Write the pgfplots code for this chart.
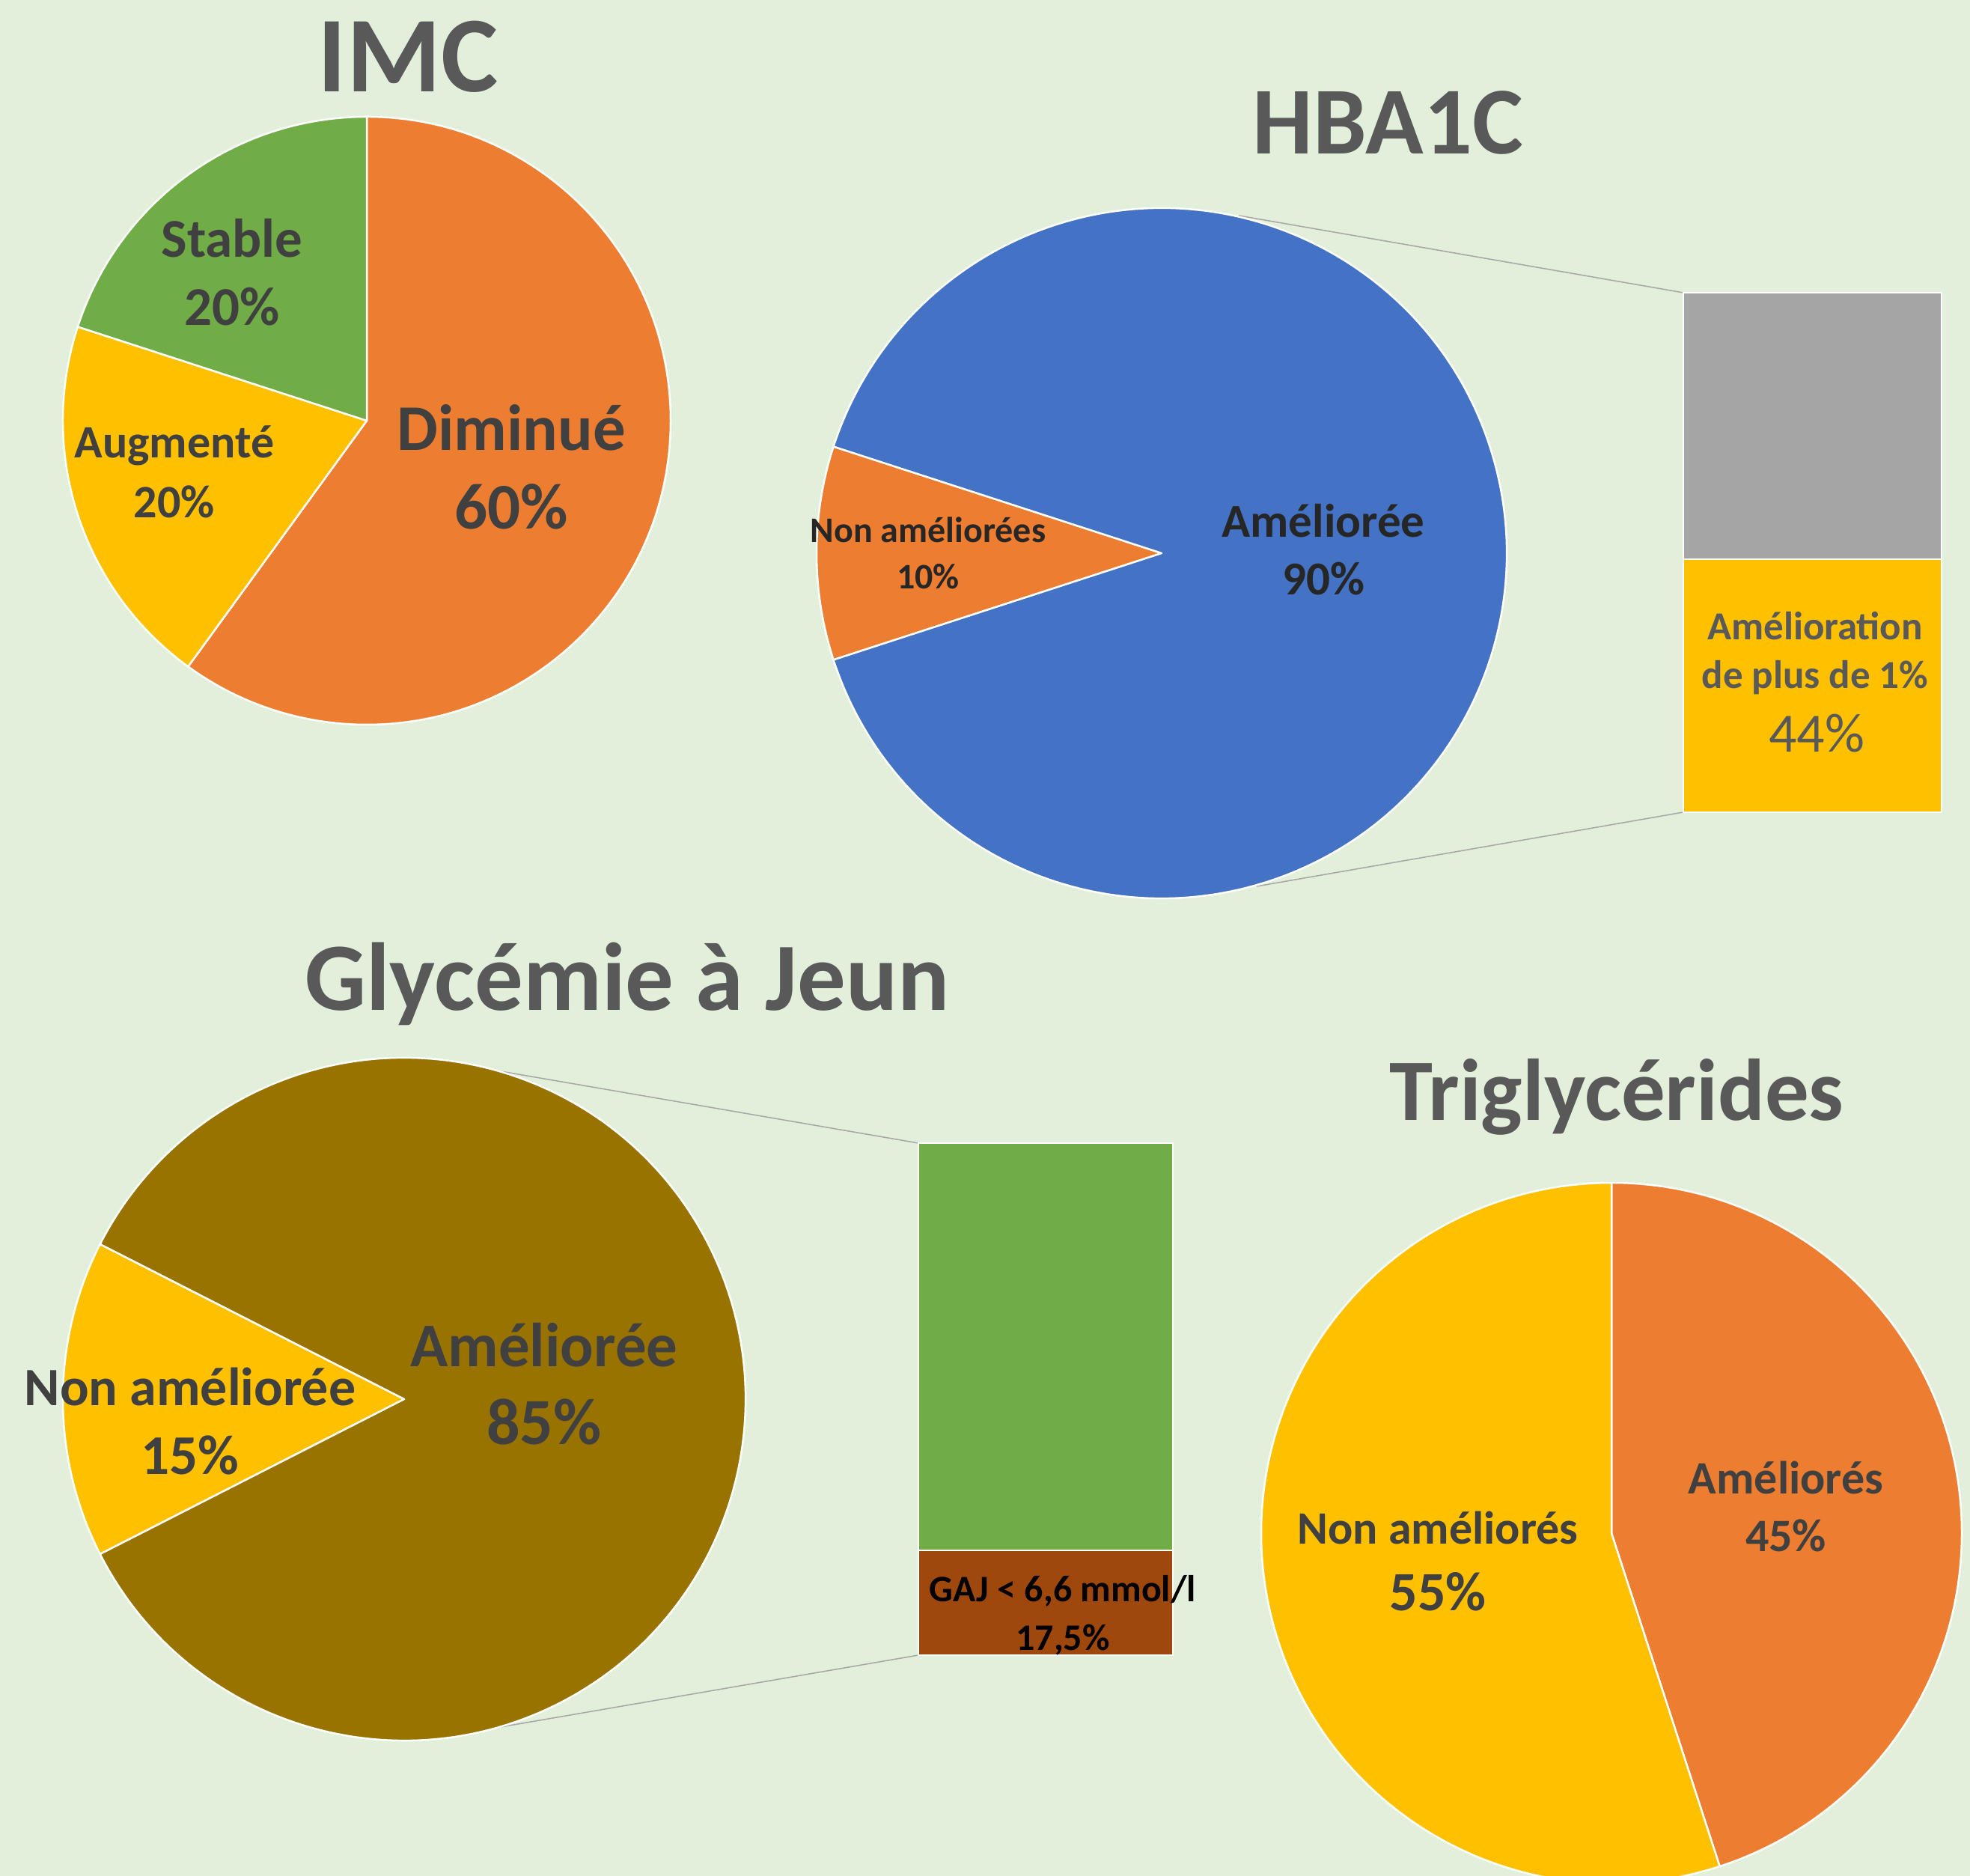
\documentclass[border=0pt]{standalone}
\usepackage{pgfplots}
\pgfplotsset{compat=1.18}
\usepackage{fontspec}
\setmainfont{Carlito}
\definecolor{bg}{HTML}{E2EFDA}
\definecolor{cOrange}{HTML}{ED7D31}
\definecolor{cYellow}{HTML}{FFC000}
\definecolor{cGreen}{HTML}{70AD47}
\definecolor{cBlue}{HTML}{4472C4}
\definecolor{cGray}{HTML}{A5A5A5}
\definecolor{cOlive}{HTML}{997300}
\definecolor{cBrown}{HTML}{9E480E}
\definecolor{tTitle}{HTML}{595959}
\definecolor{tLab}{HTML}{404040}
\definecolor{tDark}{HTML}{262626}
\definecolor{cLine}{HTML}{A6A6A6}
\newcommand\fs[1]{\fontsize{#1pt}{#1pt}\selectfont}
% slice: center x, center y, radius, start angle, percentage (clockwise if negative), colour
\newcommand\slice[6]{%
  \fill[#6, draw=white, line width=2.5pt, line join=round]
    (axis cs:#1,#2) -- ++(#4:#3pt) arc[start angle=#4, delta angle={3.6*(#5)}, radius=#3pt] -- cycle;}
\begin{document}
\begin{tikzpicture}
\begin{axis}[x=1pt, y=1pt, xmin=0, xmax=2632, ymin=0, ymax=2506,
  hide axis, scale only axis]
\fill[bg] (axis cs:0,0) rectangle (axis cs:2632,2506);

% ---------- IMC (Diminué 60, Augmenté 20, Stable 20) ----------
\slice{490}{1944}{406}{90}{-60}{cOrange}
\slice{490}{1944}{406}{-126}{-20}{cYellow}
\slice{490}{1944}{406}{162}{-20}{cGreen}
\node[anchor=base, text=tTitle, font=\fs{144}\bfseries] at (axis cs:545,2383) {IMC};
\node[anchor=base, text=tLab, font=\fs{73}\bfseries] at (axis cs:310,2162) {Stable};
\node[anchor=base, text=tLab, font=\fs{73}\bfseries] at (axis cs:310,2071) {20\%};
\node[anchor=base, text=tLab, font=\fs{62}\bfseries] at (axis cs:233,1894) {Augmenté};
\node[anchor=base, text=tLab, font=\fs{62}\bfseries] at (axis cs:233,1814) {20\%};
\node[anchor=base, text=tLab, font=\fs{87}\bfseries] at (axis cs:683,1904) {Diminué};
\node[anchor=base, text=tLab, font=\fs{87}\bfseries] at (axis cs:683,1799) {60\%};

% ---------- HBA1C (Non améliorées 10, Améliorée 90) ----------
\addplot[cLine, line width=1.5pt] coordinates {(1655,2218) (2249,2115)};
\addplot[cLine, line width=1.5pt] coordinates {(1679,1322) (2249,1421)};
\slice{1552}{1767}{461}{162}{10}{cOrange}
\slice{1552}{1767}{461}{198}{90}{cBlue}
\addplot[fill=cGray, draw=white, line width=2.5pt] coordinates {(2249,1759) (2594,1759) (2594,2115) (2249,2115)} -- cycle;
\addplot[fill=cYellow, draw=white, line width=2.5pt] coordinates {(2249,1421) (2594,1421) (2594,1759) (2249,1759)} -- cycle;
\node[anchor=base, text=tTitle, font=\fs{128}\bfseries] at (axis cs:1854,2300) {HBA1C};
\node[anchor=base, text=tDark, font=\fs{48}\bfseries] at (axis cs:1240,1781) {Non améliorées};
\node[anchor=base, text=tDark, font=\fs{48}\bfseries] at (axis cs:1240,1719) {10\%};
\node[anchor=base, text=tDark, font=\fs{63}\bfseries] at (axis cs:1768,1788) {Améliorée};
\node[anchor=base, text=tDark, font=\fs{63}\bfseries] at (axis cs:1768,1711) {90\%};
\node[anchor=base, text=tTitle, font=\fs{53}\bfseries] at (axis cs:2425,1651) {Amélioration};
\node[anchor=base, text=tTitle, font=\fs{53}\bfseries] at (axis cs:2425,1586) {de plus de 1\%};
\node[anchor=base, text=tTitle, font=\fs{74}] at (axis cs:2427,1501) {44\%};

% ---------- Glycémie à Jeun (Non améliorée 15, Améliorée 85) ----------
\addplot[cLine, line width=1.5pt] coordinates {(663,1076) (1227,979)};
\addplot[cLine, line width=1.5pt] coordinates {(663,198) (1227,295)};
\slice{540}{637}{456}{153}{15}{cYellow}
\slice{540}{637}{456}{207}{85}{cOlive}
\addplot[fill=cGreen, draw=white, line width=2.5pt] coordinates {(1227,435) (1567,435) (1567,979) (1227,979)} -- cycle;
\addplot[fill=cBrown, draw=white, line width=2.5pt] coordinates {(1227,295) (1567,295) (1567,435) (1227,435)} -- cycle;
\node[anchor=base, text=tTitle, font=\fs{129}\bfseries] at (axis cs:838,1156) {Glycémie à Jeun};
\node[anchor=base, text=tLab, font=\fs{72}\bfseries] at (axis cs:254,628) {Non améliorée};
\node[anchor=base, text=tLab, font=\fs{75}\bfseries] at (axis cs:254,536) {15\%};
\node[anchor=base, text=tLab, font=\fs{83}\bfseries] at (axis cs:727,680) {Améliorée};
\node[anchor=base, text=tLab, font=\fs{88}\bfseries] at (axis cs:727,576) {85\%};
\node[anchor=base, text=black, font=\fs{50}\bfseries] at (axis cs:1420,366) {GAJ < 6,6 mmol/l};
\node[anchor=base, text=black, font=\fs{50}\bfseries] at (axis cs:1420,301) {17,5\%};

% ---------- Triglycérides (Améliorés 45, Non améliorés 55) ----------
\slice{2153}{458}{468}{90}{-45}{cOrange}
\slice{2153}{458}{468}{-72}{-55}{cYellow}
\node[anchor=base, text=tTitle, font=\fs{117}\bfseries] at (axis cs:2160,1009) {Triglycérides};
\node[anchor=base, text=tLab, font=\fs{62}\bfseries] at (axis cs:2386,510) {Améliorés};
\node[anchor=base, text=tLab, font=\fs{62}\bfseries] at (axis cs:2386,433) {45\%};
\node[anchor=base, text=tLab, font=\fs{62}\bfseries] at (axis cs:1921,443) {Non améliorés};
\node[anchor=base, text=tLab, font=\fs{74}\bfseries] at (axis cs:1921,354) {55\%};
\end{axis}
\end{tikzpicture}
\end{document}
